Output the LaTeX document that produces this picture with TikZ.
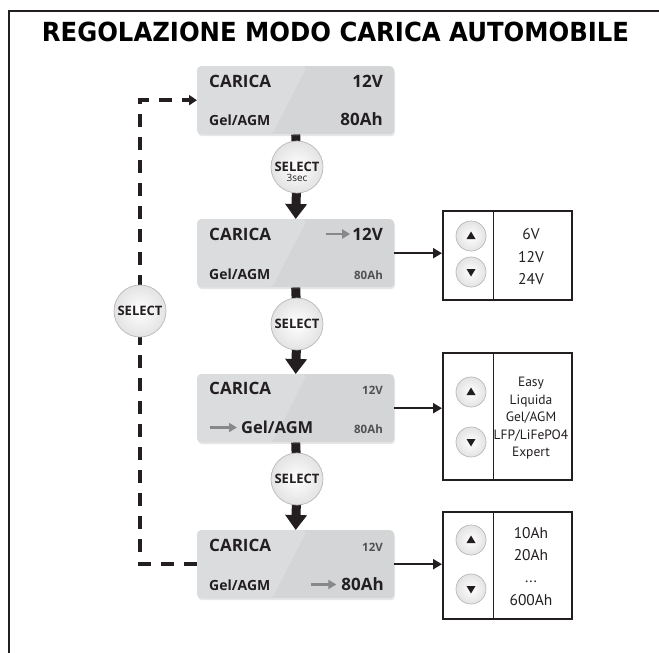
\documentclass[tikz,border=0pt]{standalone}
\usepackage{graphicx}
\usepackage{fontspec}
\setmainfont{Open Sans}
\newfontfamily\listfont{PT Sans}
\newfontfamily\titlefont{DejaVu Sans}
\usetikzlibrary{arrows.meta,shadows,calc}
\definecolor{ink}{HTML}{231F20}
\definecolor{boxgray}{HTML}{D4D5D7}
\definecolor{boxlight}{HTML}{DBDCDE}
\definecolor{txtgray}{HTML}{505153}
\definecolor{arrgray}{HTML}{87888A}
\pgfdeclarelayer{background}
\pgfsetlayers{background,main}
\newcommand{\fs}[1]{\fontsize{#1}{#1}\selectfont}
\tikzset{
  lcd/.style={rectangle, rounded corners=4pt, fill=boxgray, inner sep=0pt,
    minimum width=197pt, minimum height=68pt, anchor=north west,
    drop shadow={shadow xshift=0.8pt, shadow yshift=-2pt, opacity=0.2},
    path picture={\fill[boxlight] (path picture bounding box.north west) --
      ($(path picture bounding box.north west)+(110,0)$) --
      ($(path picture bounding box.south west)+(75,0)$) --
      (path picture bounding box.south west) -- cycle;}},
  selbtn/.style={circle, minimum size=52pt, inner sep=0pt, draw=gray!55, line width=0.7pt,
    shading=radial, inner color=white, outer color=gray!22, text=ink,
    font=\bfseries\fs{13}},
  updn/.style={circle, minimum size=30pt, inner sep=0pt, draw=gray!55, line width=0.7pt,
    shading=radial, inner color=white, outer color=gray!22},
  panel/.style={rectangle, draw=ink, line width=1.6pt, fill=white, inner sep=0pt,
    minimum width=129pt, anchor=north west},
  big/.style={font=\bfseries\fs{17}, text=ink, inner sep=0pt},
  mid/.style={font=\bfseries\fs{14}, text=ink, inner sep=0pt},
  small/.style={font=\bfseries\fs{11.5}, text=txtgray, inner sep=0pt},
  lst/.style={font=\listfont\fs{15.5}, text=ink, inner sep=0pt, anchor=base},
  lsts/.style={font=\listfont\fs{13.5}, text=ink, inner sep=0pt, anchor=base},
  stem/.style={draw=ink, line width=9pt},
  stemarrow/.style={draw=ink, line width=9pt, -{Triangle[width=21pt,length=15pt]}},
  conn/.style={draw=ink, line width=2.5pt, -{Triangle[width=10pt,length=9pt]}},
  dashconn/.style={draw=ink, line width=3.5pt, dash pattern=on 13pt off 10pt},
  grayarrow/.style={draw=arrgray, line width=2.8pt, -{Triangle[width=9pt,length=8pt]}},
}
\begin{document}
\begin{tikzpicture}[x=1pt,y=-1pt]
\useasboundingbox (0,0) rectangle (659,653);
% frame
\draw[ink, line width=2pt] (9,653) -- (9,11) -- (659,11);
% title
\node[anchor=base, inner sep=0pt] (title) at (335.5,41.5)
  {\resizebox{587pt}{19.5pt}{\titlefont\bfseries REGOLAZIONE MODO CARICA AUTOMOBILE}};

% LCD boxes
\node[lcd] (b1) at (197,66) {};
\node[lcd] (b2) at (197,219) {};
\node[lcd] (b3) at (197,374) {};
\node[lcd] (b4) at (197,530) {};

% box 1 texts
\node[big, anchor=base west] (b1c) at (209,87) {CARICA};
\node[big, anchor=base east, font=\bfseries\fs{17}] (b1v) at (383,87) {12V};
\node[mid, anchor=base west] (b1g) at (209,125) {Gel/AGM};
\node[big, anchor=base east] (b1a) at (383,125) {80Ah};
% box 2 texts
\node[big, anchor=base west] (b2c) at (209,240) {CARICA};
\node[big, anchor=base east, font=\bfseries\fs{17}] (b2v) at (383,240) {12V};
\draw[grayarrow] ($(b2v.base west)+(-26,-6)$) -- ($(b2v.base west)+(-2,-6)$);
\node[mid, anchor=base west] (b2g) at (209,279) {Gel/AGM};
\node[small, anchor=base east] (b2a) at (383,279) {80Ah};
% box 3 texts
\node[big, anchor=base west] (b3c) at (209,394) {CARICA};
\node[small, anchor=base east] (b3v) at (383,394) {12V};
\node[big, anchor=base west, font=\bfseries\fs{16.5}] (b3g) at (241,433) {Gel/AGM};
\draw[grayarrow] ($(b3g.base west)+(-31,-5.5)$) -- ($(b3g.base west)+(-4,-5.5)$);
\node[small, anchor=base east] (b3a) at (383,433) {80Ah};
% box 4 texts
\node[big, anchor=base west] (b4c) at (209,551) {CARICA};
\node[small, anchor=base east] (b4v) at (383,551) {12V};
\node[mid, anchor=base west] (b4g) at (209,590) {Gel/AGM};
\node[big, anchor=base east, font=\bfseries\fs{17}] (b4a) at (384,590) {80Ah};
\draw[grayarrow] ($(b4a.base west)+(-30,-5.5)$) -- ($(b4a.base west)+(-5,-5.5)$);

% SELECT buttons
\node[selbtn] (s1) at (297,167) {};
\node[anchor=base, font=\bfseries\fs{13}, text=ink, inner sep=0pt] (s1t) at (297,171.5) {SELECT};
\node[anchor=base, font=\fs{10}, text=ink, inner sep=0pt] (s1s) at (297,181.5) {3sec};
\node[selbtn] (s2) at (297,324) {SELECT};
\node[selbtn] (s3) at (297,479) {SELECT};
\node[selbtn] (sl) at (140,311) {SELECT};

% right panels
\node[panel, minimum height=89pt] (r1) at (442,210) {};
\node[panel, minimum height=127pt] (r2) at (442,352) {};
\node[panel, minimum height=107pt] (r3) at (442,511) {};
\foreach \r in {r1,r2,r3}{
  \draw[ink, line width=0.9pt] ($(\r.north west)+(51,0)$) -- ($(\r.south west)+(51,0)$);
}
% up/down buttons
\foreach \n/\y in {u1/236, u2/392, u3/540}{
  \node[updn] (\n) at (471,\y) {};
  \fill[ink] ($(\n)+(-4.5,3)$) -- ($(\n)+(4.5,3)$) -- ($(\n)+(0,-4.5)$) -- cycle;
}
\foreach \n/\y in {d1/272, d2/442, d3/589}{
  \node[updn] (\n) at (471,\y) {};
  \fill[ink] ($(\n)+(-4.5,-3)$) -- ($(\n)+(4.5,-3)$) -- ($(\n)+(0,4.5)$) -- cycle;
}
% list texts
\node[lst] (l11) at (531,239.5) {6V};
\node[lst] (l12) at (531,262) {12V};
\node[lst] (l13) at (531,284) {24V};
\node[lsts] (l21) at (531,386.5) {Easy};
\node[lsts] (l22) at (531,404) {Liquida};
\node[lsts] (l23) at (531,421.5) {Gel/AGM};
\node[lsts] (l24) at (531,439) {LFP/LiFePO4};
\node[lsts] (l25) at (531,456.5) {Expert};
\node[lst] (l31) at (531,538.5) {10Ah};
\node[lst] (l32) at (531,560) {20Ah};
\node[lst] (l33) at (531,582) {...};
\node[lst] (l34) at (531,605.5) {600Ah};

% connectors
\begin{pgfonlayer}{background}
\draw[stem] (b1.south) -- (s1.center);
\draw[stemarrow] (s1.center) -- (b2.north);
\draw[stem] (b2.south) -- (s2.center);
\draw[stemarrow] (s2.center) -- (b3.north);
\draw[stem] (b3.south) -- (s3.center);
\draw[stemarrow] (s3.center) -- (b4.north);
\draw[dashconn] (b4.west) -| (sl.center);
\draw[dashconn, -{Triangle[width=10pt,length=8pt]}] (sl.center) |- (b1.west);
\end{pgfonlayer}
\draw[conn] (b2.east) -- (b2.east -| r1.west);
\draw[conn] (b3.east) -- (b3.east -| r2.west);
\draw[conn] (b4.east) -- (b4.east -| r3.west);
\end{tikzpicture}
\end{document}
